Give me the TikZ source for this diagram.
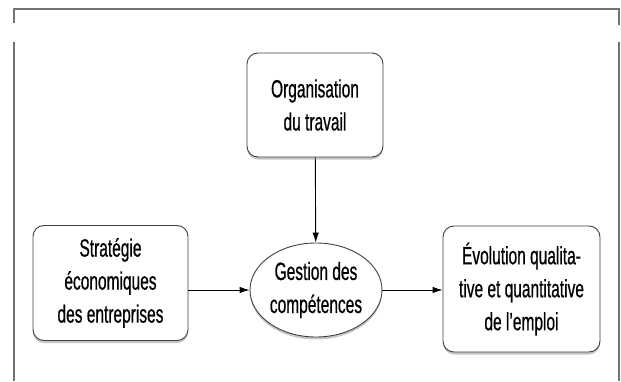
\documentclass[tikz,border=0pt]{standalone}
\usepackage{fontspec}
\newfontfamily\boxfont{Liberation Sans}[FakeStretch=0.62,FakeBold=0.6]
\usetikzlibrary{shapes.geometric,shadows,arrows.meta}
\tikzset{
    bloc/.style={draw=black!75,line width=0.9pt,rounded corners=11pt,fill=white,
        drop shadow={shadow xshift=0pt,shadow yshift=-2.5pt,fill=black!45},
        align=center,inner sep=0pt,font=\boxfont\fontsize{25}{33}\selectfont},
    ovale/.style={draw=black!75,line width=0.9pt,ellipse,fill=white,
        drop shadow={shadow xshift=0pt,shadow yshift=-2.5pt,fill=black!45},
        align=center,inner sep=0pt,font=\boxfont\fontsize{25}{33}\selectfont},
    fleche/.style={line width=0.9pt,-{Latex[length=10pt,width=6.5pt]}},
    cadre/.style={draw=black!55,line width=1.6pt}
}
\begin{document}
\begin{tikzpicture}[x=1pt,y=1pt]
\useasboundingbox (0,0) rectangle (621,381);
% cadre ouvert
\draw[cadre] (14,358)--(14,372)--(619,372)--(619,356);
\draw[cadre] (14,339)--(14,0);
\draw[cadre] (619,339)--(619,0);
% les blocs
\node[bloc,minimum width=136pt,minimum height=104pt] (orga) at (315,276) {Organisation\\du travail};
\node[bloc,minimum width=155pt,minimum height=115pt] (strat) at (110.5,98) {Stratégie\\économiques\\des entreprises};
\node[ovale,minimum width=132pt,minimum height=94pt] (gestion) at (316,91) {Gestion des\\compétences};
\node[bloc,minimum width=157pt,minimum height=126pt] (evol) at (521.5,92) {Évolution qualita-\\tive et quantitative\\de l’emploi};
% fleches
\draw[fleche] (orga) -- (gestion);
\draw[fleche] (strat.east |- gestion.center) -- (gestion.west);
\draw[fleche] (gestion.east) -- (evol.west |- gestion.center);
\end{tikzpicture}
\end{document}
